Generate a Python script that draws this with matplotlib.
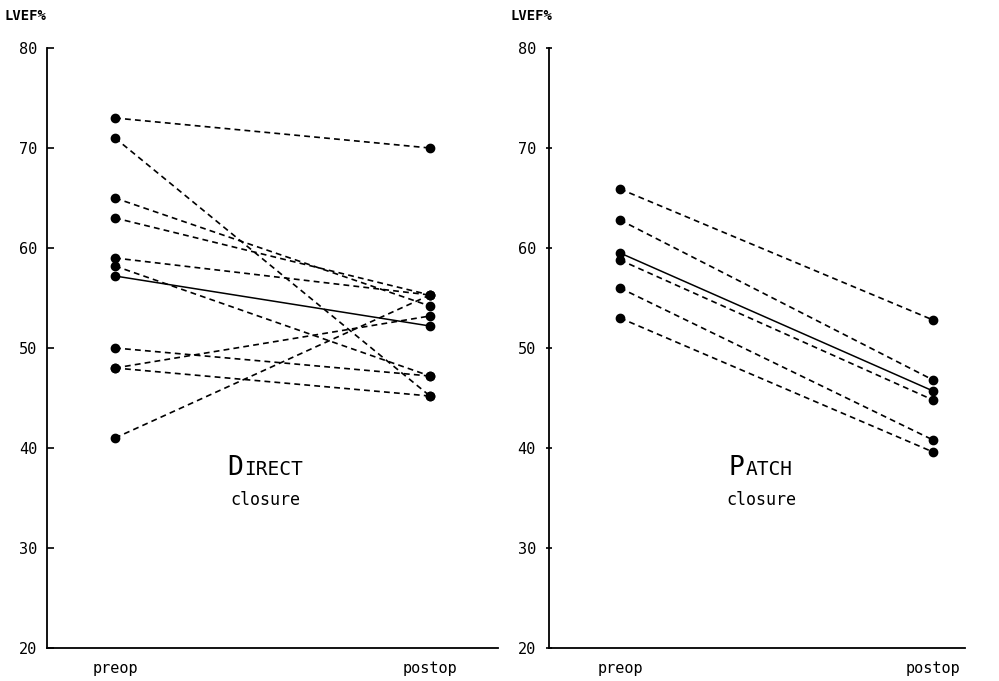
import matplotlib
matplotlib.use("Agg")
import matplotlib.pyplot as plt
from matplotlib.offsetbox import TextArea, HPacker, AnnotationBbox

plt.rcParams['font.family'] = ['DejaVu Sans Mono', 'DejaVu Sans']

# ---- data ----
time_labels = ["preop", "postop"]
y_ticks = [20, 30, 40, 50, 60, 70, 80]

direct_pre = [73, 71, 65, 63, 59, 58.2, 50, 48, 48, 41]
direct_post = [70, 45.2, 54.2, 55.3, 55.3, 47.2, 47.2, 45.2, 53.2, 55.3]
direct_mean = [57.2, 52.2]

patch_pre = [65.9, 62.8, 58.8, 56, 53]
patch_post = [52.8, 46.8, 44.8, 40.8, 39.6]
patch_mean = [59.5, 45.7]

W, H = 999, 681
fig = plt.figure(figsize=(W / 100, H / 100), dpi=100)

def px_axes(x0, x1, ytop, ybot):
    return fig.add_axes([x0 / W, 1 - ybot / H, (x1 - x0) / W, (ybot - ytop) / H])

axL = px_axes(47, 498, 48, 648)
axR = px_axes(549, 965, 48, 648)

def draw(ax, pre, post, mean, xlim, tickdir, big, small, tx):
    for a, b in zip(pre, post):
        ax.plot([0, 1], [a, b], color='black', lw=1.2, ls=(0, (3.5, 2.5)),
                marker='o', ms=6, mfc='black', mec='black')
    ax.plot([0, 1], mean, color='black', lw=1.1, ls='-',
            marker='o', ms=6, mfc='black', mec='black')
    ax.set_ylim(20, 80)
    ax.set_xlim(*xlim)
    ax.set_yticks(y_ticks)
    ax.set_xticks([0, 1])
    ax.set_xticklabels(time_labels, fontsize=11)
    ax.tick_params(axis='x', length=0, pad=9)
    ax.tick_params(axis='y', direction=tickdir, length=5, width=1.2, labelsize=11, pad=7)
    for s in ['top', 'right']:
        ax.spines[s].set_visible(False)
    for s in ['left', 'bottom']:
        ax.spines[s].set_linewidth(1.3)
    ta1 = TextArea(big, textprops=dict(fontsize=19, color='black'))
    ta2 = TextArea(small, textprops=dict(fontsize=14, color='black'))
    pack = HPacker(children=[ta1, ta2], align='baseline', pad=0, sep=1)
    ab = AnnotationBbox(pack, (tx, 38.0), xycoords='data', frameon=False,
                        box_alignment=(0.5, 0.5))
    ax.add_artist(ab)
    ax.text(tx, 34.8, "closure", ha='center', va='center', fontsize=12)

draw(axL, direct_pre, direct_post, direct_mean, (-0.216, 1.216), 'in', "D", "IRECT", 0.476)
draw(axR, patch_pre, patch_post, patch_mean, (-0.227, 1.102), 'inout', "P", "ATCH", 0.45)

fig.text(5 / W, 1 - 16 / H, "LVEF%", fontsize=10, fontweight='bold', va='center', ha='left')
fig.text(511 / W, 1 - 16 / H, "LVEF%", fontsize=10, fontweight='bold', va='center', ha='left')

fig.savefig("out.png", dpi=100)
